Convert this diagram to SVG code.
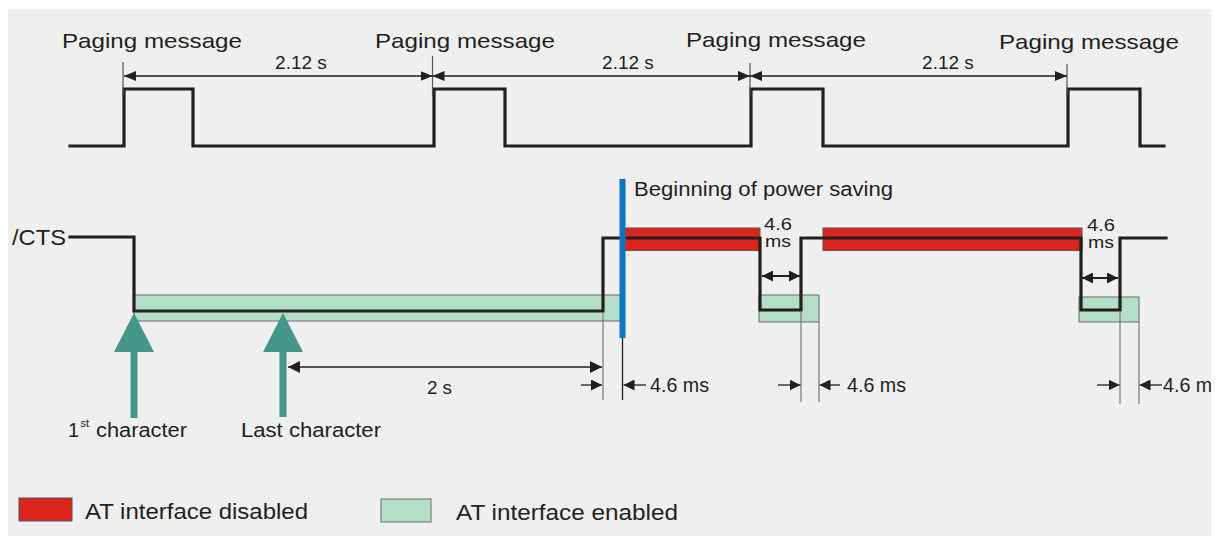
<svg xmlns="http://www.w3.org/2000/svg" width="1224" height="536" viewBox="0 0 1224 536">
<style>
text{font-family:"Liberation Sans",Arial,sans-serif;fill:#231f20}
.sig{fill:none;stroke:#231f20;stroke-width:3.2;stroke-linejoin:miter;stroke-linecap:square}
.dim{fill:none;stroke:#231f20;stroke-width:1.3}
.dim2{fill:none;stroke:#231f20;stroke-width:2}
.ext{fill:none;stroke:#777;stroke-width:1.2}
.tick{fill:none;stroke:#555;stroke-width:1.2}
.en{fill:#b5dec9;stroke:#6a6a6a;stroke-width:1}
.dis{fill:#da251d;stroke:#555;stroke-width:1}
.teal{fill:#44958a}
</style>
<defs>
<marker id="ah" viewBox="0 0 12 10" refX="12" refY="5" markerWidth="12" markerHeight="10" markerUnits="userSpaceOnUse" orient="auto-start-reverse"><path d="M0,0 L12,5 L0,10 z" fill="#231f20"/></marker>
<marker id="ah2" viewBox="0 0 12 12" refX="12" refY="6" markerWidth="12" markerHeight="12" markerUnits="userSpaceOnUse" orient="auto-start-reverse"><path d="M0,0 L12,6 L0,12 z" fill="#231f20"/></marker>
<marker id="ah3" viewBox="0 0 11 11" refX="11" refY="5.5" markerWidth="11" markerHeight="11" markerUnits="userSpaceOnUse" orient="auto-start-reverse"><path d="M0,0 L11,5.5 L0,11 z" fill="#231f20"/></marker>
<clipPath id="bgclip"><rect x="8" y="9" width="1203" height="527"/></clipPath>
</defs>
<rect id="background" x="8" y="9" width="1203" height="527" fill="#efefef"/>

<g id="paging-labels" font-size="21">
<text x="62" y="48" textLength="180" lengthAdjust="spacingAndGlyphs">Paging message</text>
<text x="375" y="48" textLength="180" lengthAdjust="spacingAndGlyphs">Paging message</text>
<text x="686" y="47" textLength="180" lengthAdjust="spacingAndGlyphs">Paging message</text>
<text x="999" y="49" textLength="180" lengthAdjust="spacingAndGlyphs">Paging message</text>
</g>

<g id="paging-signal">
<path class="sig" d="M70,146 H124 V89 H193 V146 H434 V89 H505 V146 H751 V89 H823 V146 H1068 V89 H1140 V146 H1164"/>
</g>

<g id="bands">
<rect class="en" x="134" y="295" width="488" height="26"/>
<rect class="en" x="759" y="295" width="60" height="27"/>
<rect class="en" x="1079" y="297" width="60" height="25"/>
<rect class="dis" x="622" y="228" width="138" height="22.5"/>
<rect class="dis" x="823" y="228" width="259" height="22.5"/>
</g>

<g id="cts-signal">
<text x="12" y="245" font-size="22" textLength="54" lengthAdjust="spacingAndGlyphs">/CTS</text>
<path class="sig" d="M70,237 H134 V311 H603 V238 H760 V310 H801 V238 H1081 V310 H1120 V238 H1166"/>
</g>

<g id="power-saving">
<rect x="619.5" y="179" width="6" height="159" fill="#0b75bf"/>
<text x="634" y="196" font-size="20" textLength="259" lengthAdjust="spacingAndGlyphs">Beginning of power saving</text>
</g>

<g id="char-arrows">
<path class="teal" d="M134,313 L114,352 L154,352 z"/>
<rect class="teal" x="130.5" y="351" width="7" height="67"/>
<path class="teal" d="M283,313 L263,352 L303,352 z"/>
<rect class="teal" x="279.5" y="351" width="7" height="66"/>
<text x="68" y="437" font-size="20">1</text>
<text x="80.5" y="427" font-size="11">st</text>
<text x="96" y="437" font-size="20" textLength="91" lengthAdjust="spacingAndGlyphs">character</text>
<text x="241" y="437" font-size="20" textLength="140" lengthAdjust="spacingAndGlyphs">Last character</text>
</g>

<g id="connectors">
<g id="ticks">
<line class="tick" x1="123" y1="62" x2="123" y2="96"/>
<line class="tick" x1="432.5" y1="56" x2="432.5" y2="96"/>
<line class="tick" x1="750" y1="63" x2="750" y2="96"/>
<line class="tick" x1="1067" y1="64" x2="1067" y2="96"/>
<line class="ext" x1="603" y1="312" x2="603" y2="400"/>
<line class="dim" x1="622.5" y1="338" x2="622.5" y2="400"/>
<line class="ext" x1="801" y1="312" x2="801" y2="402"/>
<line class="ext" x1="819" y1="322" x2="819" y2="402"/>
<line class="ext" x1="1120" y1="312" x2="1120" y2="404"/>
<line class="ext" x1="1139" y1="322" x2="1139" y2="404"/>
</g>
<line class="dim" x1="124" y1="76" x2="432.5" y2="76" marker-start="url(#ah)" marker-end="url(#ah)"/>
<line class="dim" x1="432.5" y1="76" x2="750" y2="76" marker-start="url(#ah)" marker-end="url(#ah)"/>
<line class="dim" x1="750" y1="76" x2="1067" y2="76" marker-start="url(#ah)" marker-end="url(#ah)"/>
<line class="dim" x1="288" y1="367" x2="602" y2="367" marker-start="url(#ah2)" marker-end="url(#ah2)"/>
<line class="dim" x1="581" y1="385" x2="602" y2="385" marker-end="url(#ah3)"/>
<line class="dim" x1="646" y1="385" x2="623.5" y2="385" marker-end="url(#ah3)"/>
<line class="dim" x1="778" y1="385" x2="800.5" y2="385" marker-end="url(#ah3)"/>
<line class="dim" x1="840" y1="385" x2="819.5" y2="385" marker-end="url(#ah3)"/>
<line class="dim" x1="1097" y1="385" x2="1119.5" y2="385" marker-end="url(#ah3)"/>
<line class="dim" x1="1162" y1="385" x2="1139.5" y2="385" marker-end="url(#ah3)"/>
<line class="dim2" x1="762" y1="276" x2="800" y2="276" marker-start="url(#ah3)" marker-end="url(#ah3)"/>
<line class="dim2" x1="1082" y1="278" x2="1118" y2="278" marker-start="url(#ah3)" marker-end="url(#ah3)"/>
</g>

<g id="dim-labels">
<text x="301" y="69" font-size="19" text-anchor="middle">2.12 s</text>
<text x="628" y="69" font-size="19" text-anchor="middle">2.12 s</text>
<text x="948" y="69" font-size="19" text-anchor="middle">2.12 s</text>
<text x="427" y="394" font-size="19" textLength="25" lengthAdjust="spacingAndGlyphs">2 s</text>
<text x="764" y="230" font-size="17" textLength="28" lengthAdjust="spacingAndGlyphs">4.6</text>
<text x="765" y="247" font-size="17" textLength="26" lengthAdjust="spacingAndGlyphs">ms</text>
<text x="1087" y="231" font-size="17" textLength="28" lengthAdjust="spacingAndGlyphs">4.6</text>
<text x="1088" y="248" font-size="17" textLength="26" lengthAdjust="spacingAndGlyphs">ms</text>
<text x="650" y="392" font-size="20" textLength="59" lengthAdjust="spacingAndGlyphs">4.6 ms</text>
<text x="847" y="392" font-size="20" textLength="59" lengthAdjust="spacingAndGlyphs">4.6 ms</text>
<text x="1163" y="392" font-size="20" textLength="59" lengthAdjust="spacingAndGlyphs" clip-path="url(#bgclip)">4.6 ms</text>
</g>

<g id="legend">
<rect class="dis" x="19" y="498" width="53" height="23"/>
<text x="85" y="519" font-size="22" textLength="223" lengthAdjust="spacingAndGlyphs">AT interface disabled</text>
<rect class="en" x="381" y="499" width="50" height="23"/>
<text x="456" y="520" font-size="22" textLength="222" lengthAdjust="spacingAndGlyphs">AT interface enabled</text>
</g>
</svg>
